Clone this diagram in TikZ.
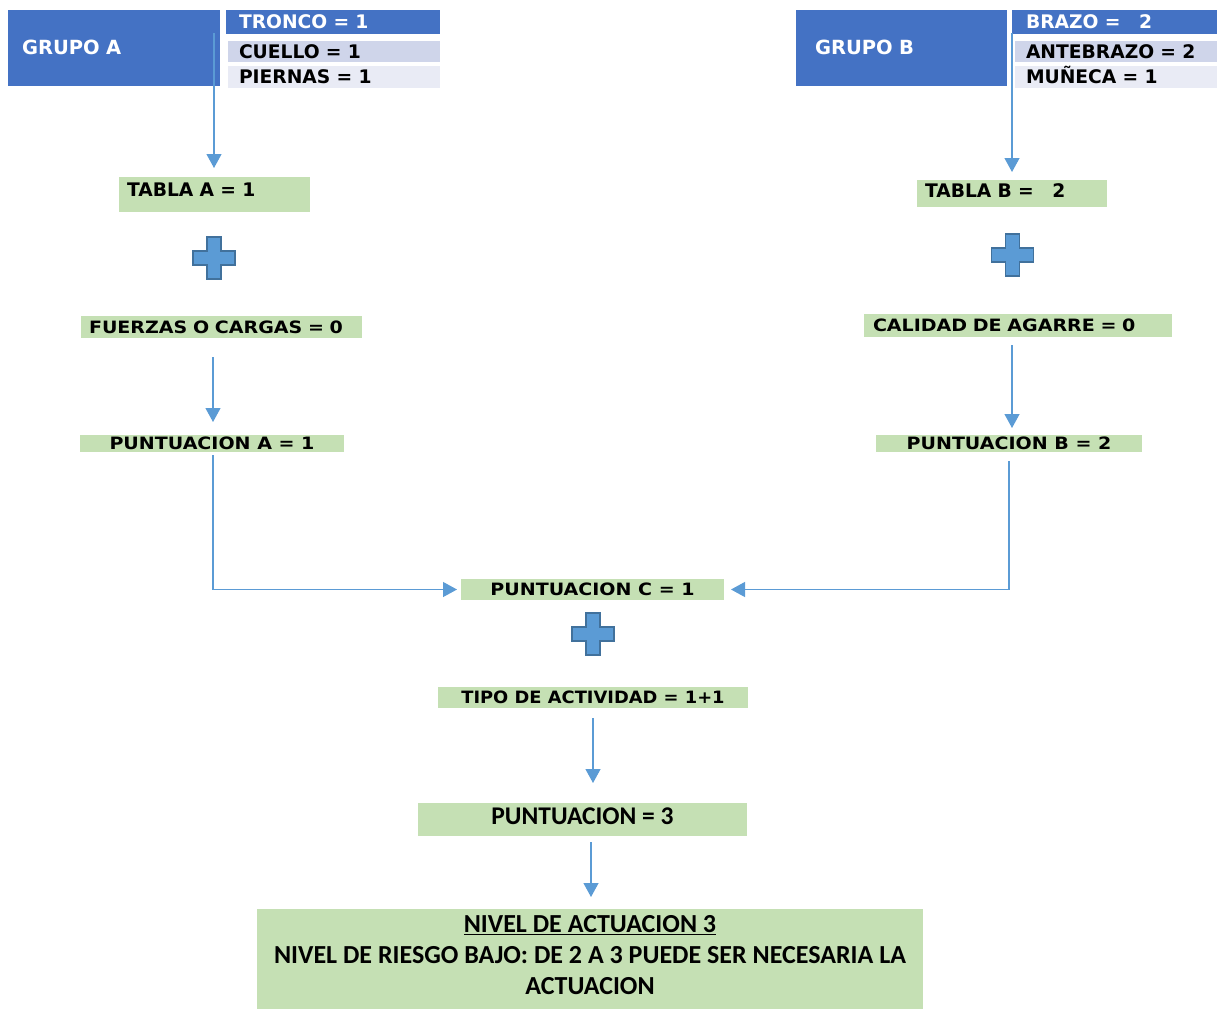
\documentclass[tikz,border=0pt]{standalone}
\usepackage{fontspec}
\setmainfont{DejaVu Sans}
\newfontfamily\letraancha[FakeStretch=1.12]{DejaVu Sans}
\newfontfamily\letramedia[FakeStretch=1.05]{DejaVu Sans}
\newfontfamily\letracal{Carlito}
\usepackage{xcolor}
\usetikzlibrary{arrows.meta}
\usetikzlibrary{positioning}

\definecolor{azulgrupo}{HTML}{4472C4}
\definecolor{lila}{HTML}{CFD5EA}
\definecolor{lilaclaro}{HTML}{E9EBF5}
\definecolor{verde}{HTML}{C5E0B4}
\definecolor{azulflecha}{HTML}{5B9BD5}
\definecolor{azulborde}{HTML}{41719C}

\tikzset{
  caja/.style={inner sep=0pt, outer sep=0pt, anchor=center},
  grande/.style={font=\bfseries\fontsize{18.7}{20}\selectfont, text height=13.6pt, text depth=0pt},
  grupo/.style={caja, grande, font=\bfseries\fontsize{19.5}{21}\selectfont, fill=azulgrupo, text=white, align=left},
  parte/.style={caja, grande, align=left},
  verdecaja/.style={caja, fill=verde},
  chica/.style={verdecaja, font=\letraancha\bfseries\fontsize{17}{19}\selectfont, text height=12.4pt, text depth=0pt},
  flecha/.style={azulflecha, line width=1.2pt, -{Triangle[width=15pt,length=14pt]}},
  cruz/.pic={
    \draw[fill=azulflecha, draw=azulborde, line width=1.8pt]
      (-7,-21) -- (7,-21) -- (7,-7) -- (21,-7) -- (21,7) -- (7,7) -- (7,21)
      -- (-7,21) -- (-7,7) -- (-21,7) -- (-21,-7) -- (-7,-7) -- cycle;
  }
}

\begin{document}
\begin{tikzpicture}[x=1pt,y=-1pt]
   \useasboundingbox (0,0) rectangle (1217,1009);

   % grupo A
   \node[grupo, minimum height=76pt, text width=184pt, inner xsep=14pt] (grupoA) at (114,48) {GRUPO A};
   \node[parte, fill=azulgrupo, text=white, minimum height=24pt, text width=188pt, inner xsep=13pt] (tronco) at (333,22) {TRONCO = 1};
   \node[parte, fill=lila, minimum height=21pt, text width=190pt, inner xsep=11pt] (cuello) at (334,51.5) {CUELLO = 1};
   \node[parte, fill=lilaclaro, minimum height=22pt, text width=190pt, inner xsep=11pt] (piernas) at (334,77) {PIERNAS = 1};

   % grupo B
   \node[grupo, minimum height=76pt, text width=173pt, inner xsep=19pt] (grupoB) at (901.5,48) {GRUPO B};
   \node[parte, fill=azulgrupo, text=white, minimum height=24pt, text width=177pt, inner xsep=14pt] (brazo) at (1114.5,22) {BRAZO =\ \ \ 2};
   \node[parte, fill=lila, minimum height=21pt, text width=180pt, inner xsep=11pt] (antebrazo) at (1116,51.5) {ANTEBRAZO = 2};
   \node[parte, fill=lilaclaro, minimum height=22pt, text width=180pt, inner xsep=11pt] (muneca) at (1116,77) {MUÑECA = 1};

   % lado A
   \node[verdecaja, grande, text height=19.5pt, text depth=15.5pt, text width=175pt, inner xsep=8pt, align=left] (tablaA) at (214.5,194.5) {TABLA A = 1};
   \pic at (214,258) {cruz};
   \node[chica, minimum height=22pt, text width=265pt, inner xsep=8pt, align=left] (fuerzas) at (221.5,327) {FUERZAS O CARGAS = 0};
   \node[chica, minimum width=264pt, minimum height=17pt] (pA) at (212,443.5) {PUNTUACION A = 1};

   % lado B
   \node[verdecaja, grande, text height=17pt, text depth=10pt, text width=174pt, inner xsep=8pt, align=left] (tablaB) at (1012,193.5) {TABLA B =\ \ \ 2};
   \pic at (1012.5,255) {cruz};
   \node[chica, minimum height=23pt, text width=290pt, inner xsep=9pt, align=left] (calidad) at (1018,325.5) {CALIDAD DE AGARRE = 0};
   \node[chica, minimum width=266pt, minimum height=17pt] (pB) at (1009,443.5) {PUNTUACION B = 2};

   % centro
   \node[chica, minimum width=263pt, minimum height=21pt] (pC) at (592.5,589.5) {PUNTUACION C = 1};
   \pic at (593,634) {cruz};
   \node[chica, font=\letramedia\bfseries\fontsize{17}{19}\selectfont, minimum width=310pt, minimum height=21pt] (tipo) at (593,697.5) {TIPO DE ACTIVIDAD = 1+1};
   \node[verdecaja, font=\letracal\bfseries\fontsize{25.5}{28}\selectfont, text height=21pt, text depth=12pt, minimum width=329pt] (punt) at (582.5,819.5) {PUNTUACION = 3};
   \node[verdecaja, font=\letracal\bfseries\fontsize{26}{31}\selectfont, align=center, text depth=8pt, minimum width=666pt, minimum height=100pt] (nivel) at (590,959)
      {\underline{NIVEL DE ACTUACION 3}\\NIVEL DE RIESGO BAJO: DE 2 A 3 PUEDE SER NECESARIA LA\\ACTUACION};

   % flechas
   \coordinate (salA) at (214,33);
   \coordinate (bajaF) at (213,357);
   \coordinate (bajaPA) at (213,455);
   \coordinate (salB) at (1012,33);
   \coordinate (bajaC) at (1012,345);
   \coordinate (bajaPB) at (1009,461);
   \coordinate (bajaT) at (593,718);
   \coordinate (bajaP) at (591,842);

   \draw[flecha, shorten >=9pt] (salA) -- (salA |- tablaA.north);
   \draw[flecha, shorten >=13pt] (bajaF) -- (bajaF |- pA.north);
   \draw[flecha, shorten >=4pt] (bajaPA) |- (pC.west);
   \draw[flecha, shorten >=8pt] (salB) -- (salB |- tablaB.north);
   \draw[flecha, shorten >=7pt] (bajaC) -- (bajaC |- pB.north);
   \draw[flecha, shorten >=7pt] (bajaPB) |- (pC.east);
   \draw[flecha, shorten >=20pt] (bajaT) -- (bajaT |- punt.north);
   \draw[flecha, shorten >=12pt] (bajaP) -- (bajaP |- nivel.north);
\end{tikzpicture}
\end{document}
